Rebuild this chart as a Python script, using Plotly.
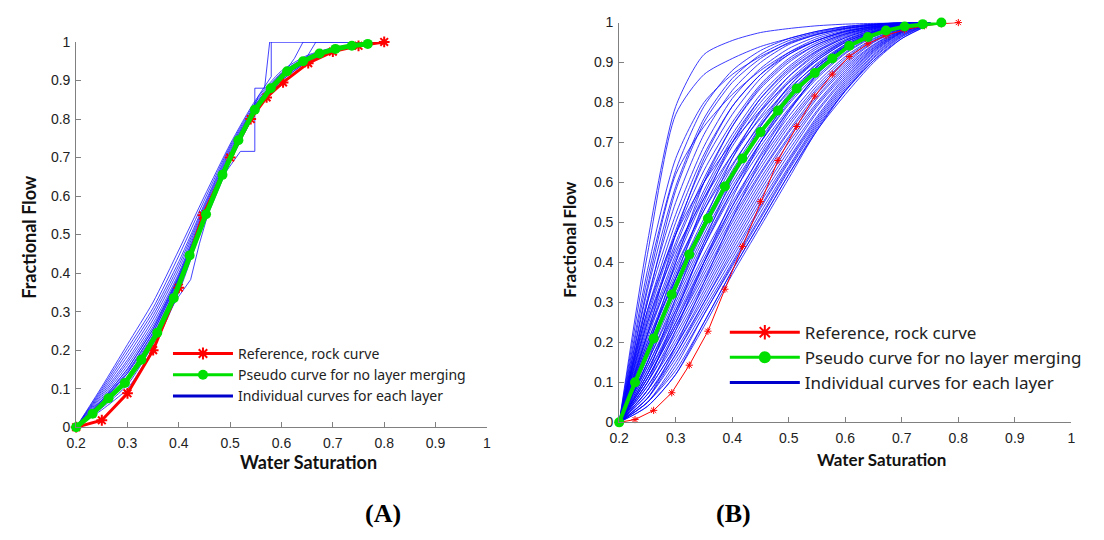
import plotly.graph_objects as go

# ---------------- Panel A data ----------------
A_red_x = [0.2, 0.25, 0.3, 0.35, 0.4, 0.447, 0.5, 0.54, 0.571, 0.603, 0.652, 0.7, 0.75, 0.8]
A_red_y = [0, 0.018, 0.088, 0.2, 0.362, 0.55, 0.70, 0.80, 0.856, 0.895, 0.945, 0.975, 0.99, 1.0]

A_green_x = [0.2, 0.232, 0.263, 0.295, 0.327, 0.358, 0.39, 0.421, 0.453, 0.485, 0.516,
             0.548, 0.579, 0.611, 0.642, 0.674, 0.705, 0.737, 0.768]
A_green_y = [0, 0.035, 0.075, 0.115, 0.175, 0.245, 0.335, 0.446, 0.553, 0.655, 0.745,
             0.824, 0.88, 0.924, 0.95, 0.97, 0.982, 0.99, 0.995]

A_grid = [0.2, 0.25, 0.3, 0.35, 0.4, 0.45, 0.5, 0.55, 0.6, 0.65, 0.7, 0.75, 0.8]
A_blue = [
    [0, 0.105, 0.215, 0.325, 0.46, 0.60, 0.735, 0.85, 0.925, 0.965, 0.985, 0.995, 1],
    [0, 0.10, 0.205, 0.31, 0.445, 0.59, 0.73, 0.845, 0.92, 0.962, 0.984, 0.995, 1],
    [0, 0.095, 0.195, 0.30, 0.43, 0.58, 0.725, 0.84, 0.918, 0.96, 0.983, 0.994, 1],
    [0, 0.09, 0.185, 0.29, 0.42, 0.575, 0.72, 0.838, 0.915, 0.958, 0.982, 0.994, 1],
    [0, 0.085, 0.175, 0.28, 0.41, 0.57, 0.715, 0.835, 0.913, 0.957, 0.981, 0.993, 1],
    [0, 0.08, 0.168, 0.27, 0.40, 0.565, 0.71, 0.832, 0.91, 0.956, 0.98, 0.993, 1],
    [0, 0.075, 0.16, 0.262, 0.395, 0.56, 0.708, 0.83, 0.91, 0.955, 0.98, 0.992, 1],
    [0, 0.07, 0.152, 0.255, 0.39, 0.555, 0.705, 0.83, 0.908, 0.954, 0.98, 0.992, 1],
    [0, 0.068, 0.145, 0.248, 0.385, 0.55, 0.70, 0.828, 0.906, 0.953, 0.979, 0.991, 1],
    [0, 0.065, 0.14, 0.24, 0.38, 0.55, 0.70, 0.825, 0.905, 0.952, 0.978, 0.991, 1],
    [0, 0.062, 0.132, 0.235, 0.375, 0.548, 0.70, 0.825, 0.905, 0.952, 0.978, 0.99, 1],
    [0, 0.058, 0.125, 0.23, 0.372, 0.545, 0.70, 0.83, 0.91, 0.955, 0.98, 0.99, 1],
    [0, 0.05, 0.11, 0.215, 0.36, 0.54, 0.695, 0.825, 0.905, 0.95, 0.978, 0.99, 1],
    [0, 0.045, 0.10, 0.205, 0.35, 0.535, 0.69, 0.82, 0.90, 0.948, 0.977, 0.99, 1],
]
# irregular layer curves (own saturation points)
A_blue_extra_x = [
    [0.2, 0.25, 0.3, 0.35, 0.4, 0.423, 0.44, 0.456, 0.5, 0.55, 0.6, 0.65, 0.7, 0.75, 0.8],
    [0.2, 0.25, 0.3, 0.35, 0.4, 0.45, 0.494, 0.52, 0.548, 0.548, 0.567, 0.577, 0.65, 0.72, 0.8],
    [0.2, 0.25, 0.3, 0.35, 0.4, 0.45, 0.5, 0.53, 0.555, 0.58, 0.58, 0.8],
    [0.2, 0.25, 0.3, 0.35, 0.4, 0.45, 0.5, 0.55, 0.6, 0.625, 0.642, 0.8],
    [0.2, 0.25, 0.3, 0.35, 0.4, 0.45, 0.5, 0.55, 0.6, 0.65, 0.667, 0.8],
]
A_blue_extra_y = [
    [0, 0.06, 0.13, 0.235, 0.34, 0.383, 0.476, 0.55, 0.69, 0.82, 0.90, 0.95, 0.978, 0.99, 1],
    [0, 0.07, 0.15, 0.255, 0.39, 0.555, 0.667, 0.716, 0.716, 0.88, 0.88, 1, 1, 1, 1],
    [0, 0.065, 0.14, 0.245, 0.385, 0.552, 0.70, 0.78, 0.86, 0.91, 1, 1],
    [0, 0.055, 0.12, 0.228, 0.37, 0.548, 0.70, 0.83, 0.91, 0.957, 1, 1],
    [0, 0.052, 0.118, 0.225, 0.368, 0.55, 0.705, 0.835, 0.915, 0.962, 1, 1],
]

# ---------------- Panel B data ----------------
B_red_x = [0.2, 0.228, 0.261, 0.293, 0.324, 0.357, 0.387, 0.418, 0.45, 0.481, 0.514,
           0.546, 0.577, 0.607, 0.64, 0.672, 0.705, 0.74, 0.77, 0.8]
B_red_y = [0, 0.007, 0.03, 0.074, 0.143, 0.228, 0.333, 0.44, 0.552, 0.655, 0.74,
           0.816, 0.871, 0.915, 0.947, 0.968, 0.982, 0.992, 0.997, 1.0]

B_green_x = [0.2, 0.228, 0.261, 0.293, 0.324, 0.357, 0.387, 0.418, 0.45, 0.481, 0.514,
             0.546, 0.577, 0.607, 0.64, 0.672, 0.705, 0.737, 0.77]
B_green_y = [0, 0.1, 0.21, 0.32, 0.42, 0.51, 0.59, 0.66, 0.726, 0.78, 0.835,
             0.874, 0.91, 0.942, 0.964, 0.98, 0.99, 0.996, 1.0]

B_grid = [0.2, 0.25, 0.3, 0.35, 0.4, 0.45, 0.5, 0.55, 0.6, 0.65, 0.7, 0.75]
B_blue = [
    [0, 0.45, 0.79, 0.92, 0.955, 0.975, 0.985, 0.992, 0.996, 0.998, 1, 1],
    [0, 0.42, 0.77, 0.87, 0.91, 0.94, 0.96, 0.978, 0.99, 0.996, 1, 1],
    [0, 0.36, 0.63, 0.79, 0.88, 0.93, 0.96, 0.978, 0.99, 0.996, 1, 1],
    [0, 0.33, 0.59, 0.76, 0.86, 0.92, 0.955, 0.975, 0.988, 0.995, 1, 1],
    [0, 0.31, 0.55, 0.72, 0.83, 0.90, 0.945, 0.97, 0.985, 0.994, 1, 1],
    [0, 0.30, 0.52, 0.69, 0.81, 0.885, 0.935, 0.965, 0.983, 0.993, 0.999, 1],
    [0, 0.28, 0.50, 0.67, 0.79, 0.87, 0.925, 0.96, 0.98, 0.992, 0.998, 1],
    [0, 0.27, 0.48, 0.65, 0.77, 0.86, 0.92, 0.955, 0.978, 0.99, 0.998, 1],
    [0, 0.26, 0.47, 0.63, 0.75, 0.845, 0.91, 0.95, 0.975, 0.99, 0.997, 1],
    [0, 0.25, 0.45, 0.61, 0.74, 0.835, 0.90, 0.945, 0.972, 0.988, 0.997, 1],
    [0, 0.24, 0.44, 0.60, 0.72, 0.82, 0.89, 0.94, 0.97, 0.987, 0.996, 1],
    [0, 0.23, 0.42, 0.58, 0.71, 0.81, 0.88, 0.93, 0.965, 0.985, 0.995, 1],
    [0, 0.22, 0.41, 0.57, 0.70, 0.80, 0.875, 0.928, 0.962, 0.984, 0.995, 1],
    [0, 0.21, 0.40, 0.56, 0.69, 0.79, 0.865, 0.92, 0.958, 0.982, 0.994, 1],
    [0, 0.20, 0.38, 0.54, 0.67, 0.775, 0.855, 0.915, 0.955, 0.98, 0.994, 1],
    [0, 0.19, 0.37, 0.53, 0.66, 0.765, 0.85, 0.91, 0.952, 0.978, 0.993, 1],
    [0, 0.19, 0.36, 0.51, 0.64, 0.75, 0.84, 0.905, 0.95, 0.977, 0.993, 1],
    [0, 0.18, 0.35, 0.50, 0.63, 0.74, 0.83, 0.898, 0.945, 0.975, 0.992, 1],
    [0, 0.17, 0.34, 0.49, 0.62, 0.73, 0.82, 0.89, 0.94, 0.973, 0.991, 1],
    [0, 0.17, 0.33, 0.48, 0.61, 0.72, 0.81, 0.885, 0.937, 0.971, 0.99, 1],
    [0, 0.16, 0.32, 0.47, 0.60, 0.71, 0.805, 0.88, 0.934, 0.97, 0.99, 1],
    [0, 0.15, 0.31, 0.46, 0.59, 0.70, 0.795, 0.872, 0.93, 0.968, 0.99, 1],
    [0, 0.15, 0.30, 0.45, 0.58, 0.69, 0.785, 0.865, 0.925, 0.966, 0.989, 1],
    [0, 0.14, 0.29, 0.44, 0.57, 0.68, 0.78, 0.86, 0.922, 0.964, 0.988, 1],
    [0, 0.14, 0.28, 0.42, 0.55, 0.665, 0.765, 0.85, 0.915, 0.96, 0.987, 1],
    [0, 0.13, 0.27, 0.41, 0.54, 0.655, 0.755, 0.842, 0.91, 0.958, 0.986, 1],
    [0, 0.12, 0.26, 0.40, 0.53, 0.645, 0.748, 0.835, 0.905, 0.955, 0.985, 1],
    [0, 0.12, 0.25, 0.39, 0.52, 0.635, 0.74, 0.83, 0.90, 0.952, 0.984, 1],
    [0, 0.11, 0.24, 0.38, 0.51, 0.625, 0.73, 0.822, 0.895, 0.95, 0.983, 1],
    [0, 0.11, 0.24, 0.37, 0.50, 0.62, 0.725, 0.815, 0.89, 0.945, 0.982, 1],
    [0, 0.10, 0.23, 0.36, 0.49, 0.61, 0.715, 0.81, 0.885, 0.943, 0.981, 1],
    [0, 0.10, 0.22, 0.35, 0.48, 0.60, 0.71, 0.80, 0.88, 0.94, 0.98, 1],
    [0, 0.09, 0.21, 0.34, 0.47, 0.59, 0.70, 0.795, 0.875, 0.937, 0.979, 1],
    [0, 0.09, 0.20, 0.33, 0.46, 0.58, 0.69, 0.79, 0.87, 0.935, 0.978, 1],
    [0, 0.08, 0.19, 0.32, 0.45, 0.57, 0.68, 0.78, 0.865, 0.932, 0.977, 1],
    [0, 0.08, 0.19, 0.31, 0.44, 0.56, 0.67, 0.775, 0.86, 0.93, 0.976, 1],
    [0, 0.07, 0.18, 0.30, 0.43, 0.55, 0.66, 0.765, 0.855, 0.927, 0.975, 0.998],
    [0, 0.07, 0.17, 0.30, 0.42, 0.54, 0.655, 0.76, 0.85, 0.924, 0.974, 0.998],
    [0, 0.06, 0.17, 0.29, 0.41, 0.535, 0.65, 0.755, 0.845, 0.92, 0.972, 0.998],
    [0, 0.06, 0.16, 0.28, 0.40, 0.525, 0.64, 0.75, 0.84, 0.917, 0.97, 0.997],
    [0, 0.05, 0.15, 0.27, 0.395, 0.515, 0.635, 0.745, 0.835, 0.913, 0.968, 0.997],
    [0, 0.05, 0.14, 0.27, 0.39, 0.51, 0.63, 0.74, 0.83, 0.91, 0.966, 0.997],
    [0, 0.05, 0.13, 0.25, 0.38, 0.50, 0.62, 0.735, 0.828, 0.905, 0.964, 0.996],
    [0, 0.04, 0.12, 0.25, 0.38, 0.50, 0.62, 0.73, 0.83, 0.905, 0.96, 0.995],
    [0, 0.04, 0.12, 0.24, 0.37, 0.49, 0.61, 0.73, 0.82, 0.90, 0.96, 0.996],
    # layers with differently shaped curves (crossing the others)
    [0, 0.30, 0.58, 0.75, 0.85, 0.91, 0.95, 0.972, 0.986, 0.994, 1, 1],
    [0, 0.22, 0.47, 0.66, 0.79, 0.87, 0.92, 0.955, 0.978, 0.99, 0.997, 1],
    [0, 0.18, 0.40, 0.60, 0.74, 0.84, 0.905, 0.945, 0.972, 0.988, 0.996, 1],
    [0, 0.15, 0.36, 0.55, 0.70, 0.81, 0.885, 0.935, 0.968, 0.986, 0.996, 1],
    [0, 0.12, 0.31, 0.50, 0.66, 0.78, 0.865, 0.925, 0.962, 0.984, 0.995, 1],
    [0, 0.10, 0.27, 0.45, 0.61, 0.74, 0.84, 0.91, 0.955, 0.981, 0.994, 1],
    [0, 0.08, 0.23, 0.40, 0.56, 0.70, 0.81, 0.89, 0.945, 0.977, 0.993, 1],
    [0, 0.06, 0.19, 0.35, 0.51, 0.655, 0.775, 0.87, 0.935, 0.973, 0.992, 1],
    [0, 0.28, 0.47, 0.60, 0.70, 0.78, 0.85, 0.905, 0.95, 0.978, 0.993, 1],
    [0, 0.25, 0.43, 0.56, 0.67, 0.76, 0.835, 0.895, 0.942, 0.974, 0.992, 1],
    [0, 0.22, 0.39, 0.53, 0.645, 0.745, 0.825, 0.89, 0.94, 0.972, 0.991, 1],
    [0, 0.20, 0.36, 0.50, 0.62, 0.725, 0.815, 0.885, 0.936, 0.97, 0.99, 1],
    [0, 0.34, 0.62, 0.74, 0.82, 0.88, 0.925, 0.955, 0.977, 0.99, 0.997, 1],
    [0, 0.38, 0.66, 0.80, 0.87, 0.915, 0.948, 0.97, 0.985, 0.994, 1, 1],
    [0, 0.13, 0.28, 0.44, 0.58, 0.70, 0.80, 0.88, 0.94, 0.975, 0.993, 1],
    [0, 0.11, 0.25, 0.40, 0.54, 0.67, 0.78, 0.87, 0.935, 0.973, 0.992, 1],
]

x_ticks = [0.2, 0.3, 0.4, 0.5, 0.6, 0.7, 0.8, 0.9, 1.0]
x_tick_text = ["0.2", "0.3", "0.4", "0.5", "0.6", "0.7", "0.8", "0.9", "1"]
y_ticks = [0, 0.1, 0.2, 0.3, 0.4, 0.5, 0.6, 0.7, 0.8, 0.9, 1.0]
y_tick_text = ["0", "0.1", "0.2", "0.3", "0.4", "0.5", "0.6", "0.7", "0.8", "0.9", "1"]

legend_names = ["Reference, rock curve", "Pseudo curve for no layer merging",
                "Individual curves for each layer"]

RED = "#FF0000"
GREEN = "#00E000"
BLUE = "#0000FF"

fig = go.Figure()

# ---- Panel A ----
for ys in A_blue:
    fig.add_trace(go.Scatter(x=A_grid, y=ys, mode="lines", xaxis="x", yaxis="y",
                             line=dict(color="rgba(20,20,255,0.8)", width=1, shape="spline", smoothing=0.6),
                             showlegend=False, hoverinfo="skip"))
for xs, ys in zip(A_blue_extra_x, A_blue_extra_y):
    fig.add_trace(go.Scatter(x=xs, y=ys, mode="lines", xaxis="x", yaxis="y",
                             line=dict(color="rgba(20,20,255,0.8)", width=1),
                             showlegend=False, hoverinfo="skip"))
fig.add_trace(go.Scatter(x=A_red_x, y=A_red_y, mode="lines+markers", xaxis="x", yaxis="y",
                         line=dict(color=RED, width=3),
                         marker=dict(symbol="asterisk", size=9, line=dict(color=RED, width=2)),
                         showlegend=False, cliponaxis=False))
fig.add_trace(go.Scatter(x=A_green_x, y=A_green_y, mode="lines+markers", xaxis="x", yaxis="y",
                         line=dict(color=GREEN, width=5),
                         marker=dict(symbol="circle", size=10, color=GREEN),
                         showlegend=False, cliponaxis=False))

# ---- Panel B ----
for ys in B_blue:
    fig.add_trace(go.Scatter(x=B_grid, y=ys, mode="lines", xaxis="x2", yaxis="y2",
                             line=dict(color=BLUE, width=0.9, shape="spline", smoothing=0.7),
                             opacity=0.85, showlegend=False, hoverinfo="skip"))
fig.add_trace(go.Scatter(x=B_red_x, y=B_red_y, mode="lines+markers", xaxis="x2", yaxis="y2",
                         line=dict(color=RED, width=1),
                         marker=dict(symbol="asterisk", size=6, line=dict(color=RED, width=1)),
                         showlegend=False, cliponaxis=False))
fig.add_trace(go.Scatter(x=B_green_x, y=B_green_y, mode="lines+markers", xaxis="x2", yaxis="y2",
                         line=dict(color=GREEN, width=4),
                         marker=dict(symbol="circle", size=10, color=GREEN),
                         showlegend=False, cliponaxis=False))

# ---- legend entries ----
for leg, lw, ms in [("legend", 3, 10), ("legend2", 3, 12)]:
    xa, ya = ("x", "y") if leg == "legend" else ("x2", "y2")
    fig.add_trace(go.Scatter(x=[None], y=[None], mode="lines+markers", name=legend_names[0],
                             xaxis=xa, yaxis=ya, legend=leg, legendrank=1,
                             line=dict(color=RED, width=lw),
                             marker=dict(symbol="asterisk", size=ms, line=dict(color=RED, width=2))))
    fig.add_trace(go.Scatter(x=[None], y=[None], mode="lines+markers", name=legend_names[1],
                             xaxis=xa, yaxis=ya, legend=leg, legendrank=2,
                             line=dict(color=GREEN, width=lw),
                             marker=dict(symbol="circle", size=ms, color=GREEN)))
    fig.add_trace(go.Scatter(x=[None], y=[None], mode="lines", name=legend_names[2],
                             xaxis=xa, yaxis=ya, legend=leg, legendrank=3,
                             line=dict(color="#0000CC", width=lw)))

W, H = 1104, 540
axis_common = dict(showline=True, linecolor="#808080", linewidth=1, ticks="inside", ticklen=5,
                   tickcolor="#808080", showgrid=False, zeroline=False, mirror=False,
                   tickfont=dict(family="Liberation Sans", size=14, color="#222"))

fig.update_layout(
    width=W, height=H, margin=dict(l=0, r=0, t=0, b=0),
    paper_bgcolor="white", plot_bgcolor="white",
    xaxis=dict(domain=[67 / W, 483 / W], range=[0.2, 1], tickvals=x_ticks, ticktext=x_tick_text,
               anchor="y", ticklabelstandoff=3, **axis_common),
    yaxis=dict(domain=[1 - 432 / H, 1 - 35 / H], range=[0, 1], tickvals=y_ticks, ticktext=y_tick_text,
               anchor="x", ticklabelstandoff=2, **axis_common),
    xaxis2=dict(domain=[617 / W, 1075 / W], range=[0.2, 1], tickvals=x_ticks, ticktext=x_tick_text,
                anchor="y2", ticklabelstandoff=3, **axis_common),
    yaxis2=dict(domain=[1 - 427 / H, 1 - 15 / H], range=[0, 1], tickvals=y_ticks, ticktext=y_tick_text,
                anchor="x2", ticklabelstandoff=2, **axis_common),
    legend=dict(x=160 / W, y=1 - 340 / H, xanchor="left", yanchor="top", bgcolor="rgba(0,0,0,0)",
                font=dict(family="Noto Sans", size=14, color="#222"),
                itemwidth=60, tracegroupgap=0, traceorder="normal"),
    legend2=dict(x=724 / W, y=1 - 316 / H, xanchor="left", yanchor="top", bgcolor="rgba(0,0,0,0)",
                 font=dict(family="Noto Sans", size=17, color="#222"),
                 itemwidth=70, tracegroupgap=0, traceorder="normal"),
    showlegend=True,
)

annotations = [
    dict(text="<b>Water Saturation</b>", x=302 / W, y=1 - 468 / H, xref="paper", yref="paper",
         showarrow=False, font=dict(family="Lato", size=18, color="#111"),
         xanchor="center", yanchor="middle"),
    dict(text="<b>Fractional Flow</b>", x=19 / W, y=1 - 236 / H, xref="paper", yref="paper",
         showarrow=False, font=dict(family="Lato", size=18, color="#111"),
         textangle=-90, xanchor="center", yanchor="middle"),
    dict(text="<b>Water Saturation</b>", x=883 / W, y=1 - 465 / H, xref="paper", yref="paper",
         showarrow=False, font=dict(family="Lato", size=17, color="#111"),
         xanchor="center", yanchor="middle"),
    dict(text="<b>Fractional Flow</b>", x=567 / W, y=1 - 238 / H, xref="paper", yref="paper",
         showarrow=False, font=dict(family="Lato", size=17, color="#111"),
         textangle=-90, xanchor="center", yanchor="middle"),
    dict(text="<b>(A)</b>", x=378 / W, y=1 - 521 / H, xref="paper", yref="paper", showarrow=False,
         font=dict(family="Liberation Serif", size=26, color="black"),
         xanchor="center", yanchor="middle"),
    dict(text="<b>(B)</b>", x=733 / W, y=1 - 521 / H, xref="paper", yref="paper", showarrow=False,
         font=dict(family="Liberation Serif", size=26, color="black"),
         xanchor="center", yanchor="middle"),
]
fig.update_layout(annotations=annotations)

fig.write_html("out.html")
